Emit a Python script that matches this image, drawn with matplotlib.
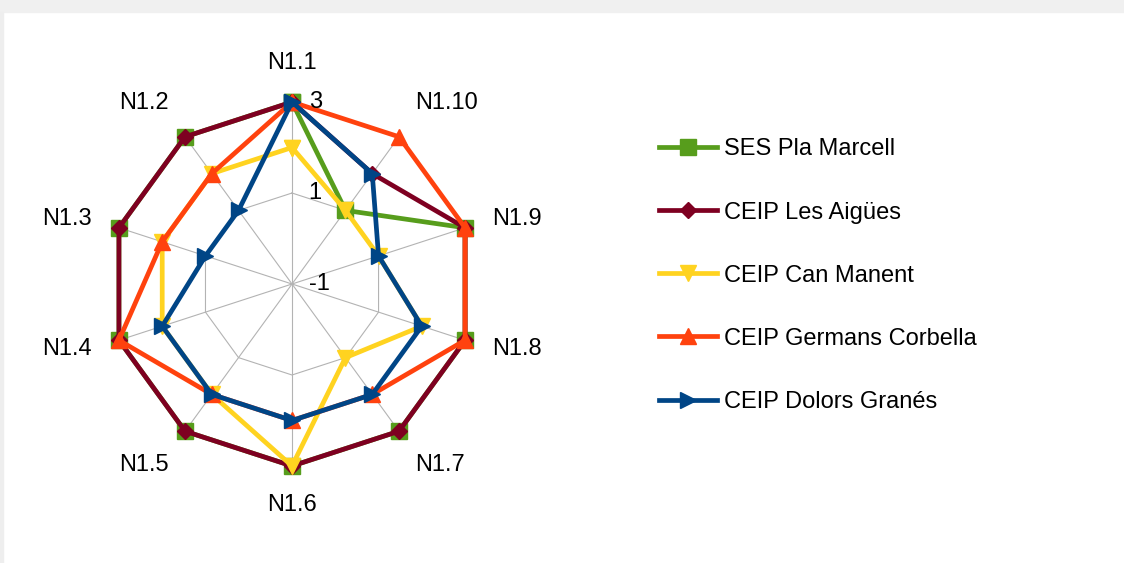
import numpy as np
import matplotlib
matplotlib.use('Agg')
import matplotlib.pyplot as plt
from matplotlib.patches import Rectangle

plt.rcParams['font.family'] = ['Liberation Sans', 'DejaVu Sans']

# categories go counterclockwise from the top
categories = ['N1.1', 'N1.2', 'N1.3', 'N1.4', 'N1.5', 'N1.6', 'N1.7', 'N1.8', 'N1.9', 'N1.10']
schools = ['SES Pla Marcell', 'CEIP Les Aigües', 'CEIP Can Manent',
           'CEIP Germans Corbella', 'CEIP Dolors Granés']

pla_marcell = [3, 3, 3, 3, 3, 3, 3, 3, 3, 1]
les_aigues = [3, 3, 3, 3, 3, 3, 3, 3, 3, 2]
can_manent = [2, 2, 2, 2, 2, 3, 1, 2, 1, 1]
germans_corbella = [3, 2, 2, 3, 2, 2, 2, 3, 3, 3]
dolors_granes = [3, 1, 1, 2, 2, 2, 2, 2, 1, 2]

grid_levels = [-1, 1, 3]
tick_labels = ['-1', '1', '3']

series = [pla_marcell, les_aigues, can_manent, germans_corbella, dolors_granes]
colors = ['#579d1c', '#7e0021', '#ffd320', '#ff420e', '#004586']
markers = ['s', 'D', 'v', '^', '>']
msizes = [11, 8.5, 11.5, 11.5, 11.5]

fig = plt.figure(figsize=(11.24, 5.63), dpi=100)
fig.patches.append(Rectangle((0, 1 - 12 / 563), 1, 12 / 563, transform=fig.transFigure,
                             color='#f0f0f0', zorder=0))
fig.patches.append(Rectangle((0, 0), 3 / 1124, 1 - 12 / 563, transform=fig.transFigure,
                             color='#eeeeee', zorder=0))

ax = fig.add_axes([0.0979, 0.1723, 0.3238, 0.6465], projection='polar')
ax.set_theta_offset(np.pi / 2)
ax.set_ylim(-1, 3)
ax.grid(False)
ax.set_xticks([])
ax.set_yticks([])
ax.spines['polar'].set_visible(False)
ax.patch.set_alpha(0)

n = len(categories)
angles = np.arange(n) * 2 * np.pi / n
closed = np.append(angles, angles[0])

# polygon grid and spokes
for lev in grid_levels:
    ax.plot(closed, [lev] * (n + 1), color='#b3b3b3', lw=0.8, zorder=1)
for a in angles:
    ax.plot([a, a], [-1, 3], color='#b3b3b3', lw=0.8, zorder=1)

for vals, name, c, m, ms in zip(series, schools, colors, markers, msizes):
    v = np.append(vals, vals[0])
    ax.plot(closed, v, color=c, lw=3.4, marker=m, markersize=ms, label=name,
            clip_on=False, zorder=3)

# category labels
for a, lab in zip(angles, categories):
    dx, dy = -np.sin(a), np.cos(a)
    ha = 'left' if dx > 0.1 else ('right' if dx < -0.1 else 'center')
    va = 'bottom' if dy > 0.5 else ('top' if dy < -0.5 else 'center')
    ax.text(a, 3.62, lab, ha=ha, va=va, fontsize=17, clip_on=False)

# radial tick labels
for lev, t in zip(grid_levels, tick_labels):
    ax.annotate(t, xy=(0, lev), xytext=(12, 0), textcoords='offset points',
                ha='left', va='center', fontsize=17)

fig.legend(loc='upper left', bbox_to_anchor=(0.586, 0.754), frameon=False,
           fontsize=17, handlelength=2.45, handletextpad=0.3, labelspacing=1.74,
           borderpad=0, borderaxespad=0)

fig.savefig('out.png', dpi=100)
